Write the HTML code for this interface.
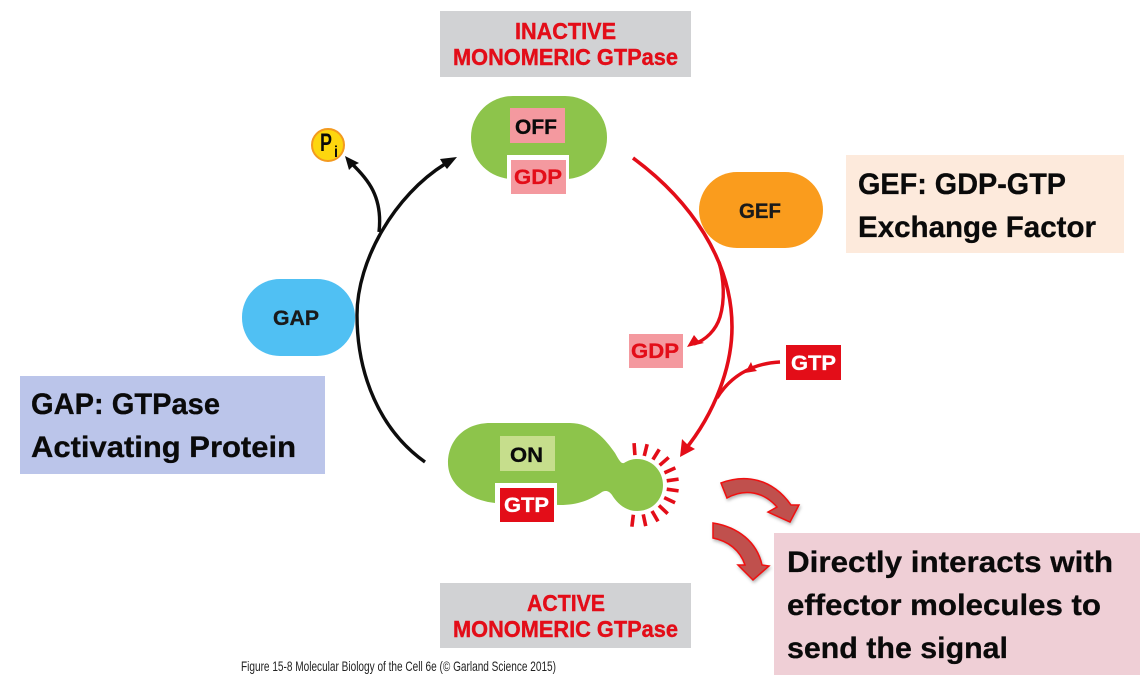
<!DOCTYPE html>
<html lang="en">
<head>
<meta charset="utf-8">
<title>Monomeric GTPase cycle</title>
<style>
html,body{margin:0;padding:0;background:#fff;width:1147px;height:694px;overflow:hidden}
svg{display:block}
text{font-family:"Liberation Sans",sans-serif;font-weight:bold}
.big{font-size:30px;fill:#0a0a0a;stroke:#0a0a0a;stroke-width:.3px}
.hd{font-size:23px;fill:#e30d18;stroke:#e30d18;stroke-width:.4px}
.lb{font-size:21px;stroke:currentColor;stroke-width:.3px}
</style>
</head>
<body>
<svg width="1147" height="694" viewBox="0 0 1147 694" xmlns="http://www.w3.org/2000/svg">
<rect width="1147" height="694" fill="#fff"/>

<g>
<rect x="440" y="11" width="251" height="66" fill="#d1d2d4"/>
<text class="hd" x="515" y="39" textLength="101" lengthAdjust="spacingAndGlyphs">INACTIVE</text>
<text class="hd" x="453" y="65" textLength="225" lengthAdjust="spacingAndGlyphs">MONOMERIC GTPase</text>
</g>

<g>
<rect x="440" y="583" width="251" height="65" fill="#d1d2d4"/>
<text class="hd" x="527" y="611" textLength="78" lengthAdjust="spacingAndGlyphs">ACTIVE</text>
<text class="hd" x="453" y="637" textLength="225" lengthAdjust="spacingAndGlyphs">MONOMERIC GTPase</text>
</g>

<g>
<rect x="471" y="96" width="136" height="83" rx="42" ry="41" fill="#8dc44b"/>
<rect x="510" y="108" width="55" height="35" fill="#f4999f"/>
<text class="lb" x="515" y="134" textLength="42" lengthAdjust="spacingAndGlyphs" fill="#0a0a0a" color="#0a0a0a">OFF</text>
<rect x="507" y="155" width="62" height="41" fill="#fff"/>
<rect x="511" y="160" width="55" height="34" fill="#f4999f"/>
<text class="lb" x="514" y="184" textLength="48" lengthAdjust="spacingAndGlyphs" fill="#e30d18" color="#e30d18">GDP</text>
</g>

<g>
<path d="M490,423 L570,423 C592,423 606,440 615,453 C619,460 621,464 624,463 C629,460 633,459 637,459 C652,459 663,471 663,485 C663,500 652,511 637,511 C625,511 617,503 612,495 C609,491 606,490 602,492 C590,500 578,505 560,505 L495,503 C468,500 448,484 448,463 C448,440 465,423 490,423 Z" fill="#8dc44b"/>
<rect x="500" y="436" width="55" height="35" fill="#c6de8c"/>
<text class="lb" x="510" y="462" textLength="33" lengthAdjust="spacingAndGlyphs" fill="#0a0a0a" color="#0a0a0a">ON</text>
<rect x="495" y="483" width="62" height="41" fill="#fff"/>
<rect x="500" y="488" width="54" height="34" fill="#e30d18"/>
<text class="lb" x="504" y="512" textLength="45" lengthAdjust="spacingAndGlyphs" fill="#fff" color="#fff">GTP</text>
</g>

<g stroke="#e30d18" stroke-width="3.6">
<line x1="667" y1="485" x2="679" y2="485" transform="rotate(-94 637 485)"/>
<line x1="667" y1="485" x2="679" y2="485" transform="rotate(-76 637 485)"/>
<line x1="667" y1="485" x2="679" y2="485" transform="rotate(-58 637 485)"/>
<line x1="667" y1="485" x2="679" y2="485" transform="rotate(-41 637 485)"/>
<line x1="667" y1="485" x2="679" y2="485" transform="rotate(-24 637 485)"/>
<line x1="667" y1="485" x2="679" y2="485" transform="rotate(-8 637 485)"/>
<line x1="667" y1="485" x2="679" y2="485" transform="rotate(8 637 485)"/>
<line x1="667" y1="485" x2="679" y2="485" transform="rotate(25 637 485)"/>
<line x1="667" y1="485" x2="679" y2="485" transform="rotate(43 637 485)"/>
<line x1="667" y1="485" x2="679" y2="485" transform="rotate(60 637 485)"/>
<line x1="667" y1="485" x2="679" y2="485" transform="rotate(78 637 485)"/>
<line x1="667" y1="485" x2="679" y2="485" transform="rotate(97 637 485)"/>
</g>

<g>
<rect x="699" y="172" width="124" height="76" rx="38" fill="#fa9c1d"/>
<text class="lb" x="739" y="218" textLength="42" lengthAdjust="spacingAndGlyphs" fill="#1a1a1a" color="#1a1a1a">GEF</text>
</g>

<g>
<rect x="242" y="279" width="113" height="77" rx="38" fill="#50c0f3"/>
<text class="lb" x="273" y="325" textLength="46" lengthAdjust="spacingAndGlyphs" fill="#1a1a1a" color="#1a1a1a">GAP</text>
</g>

<g fill="none" stroke="#e30d18">
<path d="M633,158 C690,200 732,260 732,327 C732,365 716,412 684,451" stroke-width="3.6"/>
<path d="M719,262 C724,280 725,300 720,317 C716,330 706,340 694,344" stroke-width="3.4"/>
<path d="M780,362 C758,363 733,372 717,398" stroke-width="3.4"/>
</g>
<polygon points="680,457 682,439 688,445 695,449" fill="#e30d18"/>
<polygon points="687,347 694,335 698,340 704,343" fill="#e30d18"/>
<polygon points="745,373 751,362 753,367 757,371" fill="#e30d18"/>

<g fill="none" stroke="#0d0d0d" stroke-width="3.4">
<path d="M425,462 C380,430 357,375 357,315 C357,260 395,195 445,164"/>
<path d="M379,232 C383,197 368,179 351,163"/>
</g>
<polygon points="457,157 440,159 443,164 447,169" fill="#0d0d0d"/>
<polygon points="345,156 349,170 353,166 359,163" fill="#0d0d0d"/>

<g>
<circle cx="328" cy="145" r="16" fill="#fdd60e" stroke="#f39a1f" stroke-width="2"/>
<text x="320" y="151" font-size="25" textLength="12" lengthAdjust="spacingAndGlyphs" fill="#0a0a0a">P</text>
<text x="334" y="157" font-size="16" textLength="4" lengthAdjust="spacingAndGlyphs" fill="#0a0a0a">i</text>
</g>

<rect x="629" y="334" width="54" height="34" fill="#f4999f"/>
<text class="lb" x="631" y="358" textLength="48" lengthAdjust="spacingAndGlyphs" fill="#e30d18" color="#e30d18">GDP</text>
<rect x="786" y="345" width="55" height="35" fill="#e30d18"/>
<text class="lb" x="791" y="370" textLength="45" lengthAdjust="spacingAndGlyphs" fill="#fff" color="#fff">GTP</text>

<g>
<rect x="846" y="155" width="278" height="98" fill="#fdeadc"/>
<text class="big" x="858" y="194" textLength="208" lengthAdjust="spacingAndGlyphs">GEF: GDP-GTP</text>
<text class="big" x="858" y="237" textLength="238" lengthAdjust="spacingAndGlyphs">Exchange Factor</text>
</g>

<g>
<rect x="20" y="376" width="305" height="98" fill="#bbc5ea"/>
<text class="big" x="31" y="414" textLength="189" lengthAdjust="spacingAndGlyphs">GAP: GTPase</text>
<text class="big" x="31" y="457" textLength="265" lengthAdjust="spacingAndGlyphs">Activating Protein</text>
</g>

<g>
<rect x="774" y="533" width="366" height="142" fill="#efcfd6"/>
<text class="big" x="787" y="572" textLength="326" lengthAdjust="spacingAndGlyphs">Directly interacts with</text>
<text class="big" x="787" y="615" textLength="314" lengthAdjust="spacingAndGlyphs">effector molecules to</text>
<text class="big" x="787" y="658" textLength="221" lengthAdjust="spacingAndGlyphs">send the signal</text>
</g>

<g fill="#c0504d" stroke="#f01010" stroke-width="1.5" stroke-linejoin="miter" style="filter:drop-shadow(1px 2px 1.5px rgba(0,0,0,.3))">
<path d="M721,483 C745,474 772,478 791,505 L799,505 L790,522 L768,512 L777,507 C764,492 745,488 727,498 Z"/>
<path d="M713,523 C738,527 757,542 762,565 L769,566 L753,580 L738,565 L745,565 C740,550 728,541 713,538 Z"/>
</g>

<text x="241" y="671" font-size="14" textLength="315" lengthAdjust="spacingAndGlyphs" fill="#222" style="font-weight:normal">Figure 15-8  Molecular Biology of the Cell 6e (© Garland Science 2015)</text>
</svg>
</body>
</html>
